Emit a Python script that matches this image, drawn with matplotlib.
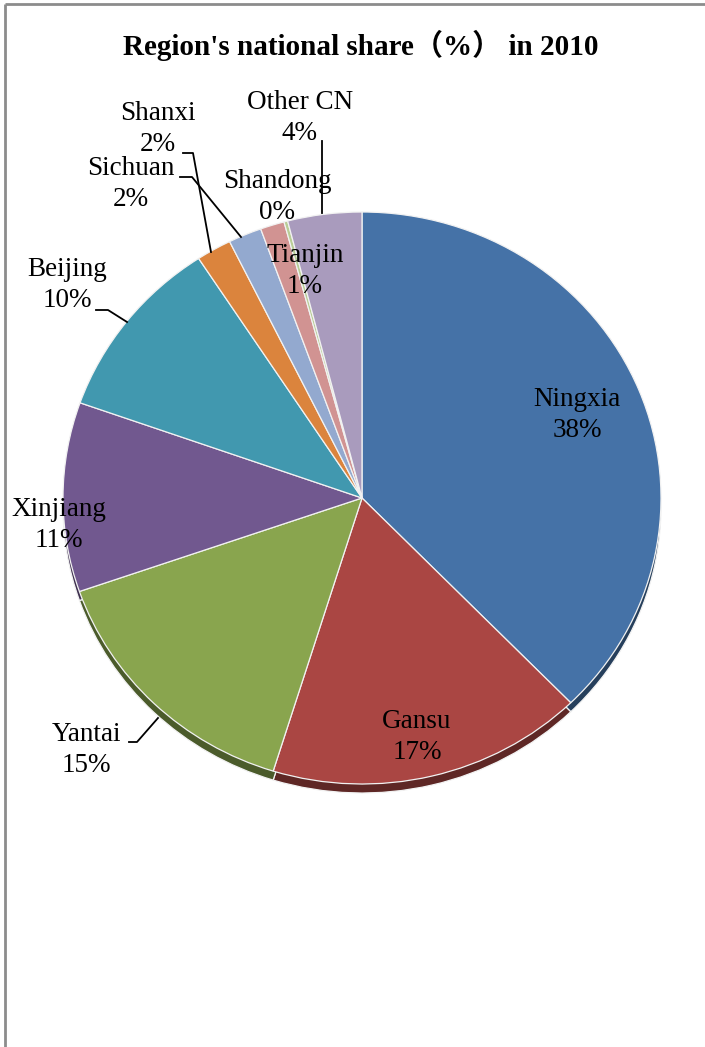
import matplotlib.pyplot as plt
import numpy as np
from matplotlib.colors import to_rgb

# region shares (%), clockwise from 12 o'clock
regions = ["Ningxia", "Gansu", "Yantai", "Xinjiang", "Beijing",
           "Sichuan", "Shanxi", "Tianjin", "Shandong", "Other CN"]
shares = [37.7, 17.1, 14.9, 10.7, 10.4, 1.9, 1.8, 1.3, 0.2, 4.0]
pct_labels = ["38%", "17%", "15%", "11%", "10%", "2%", "2%", "1%", "0%", "4%"]
colors = ["#4572A7", "#AA4643", "#89A54E", "#71588F", "#4198AF",
          "#DB843D", "#93A9CF", "#D19392", "#B9CD96", "#A99BBD"]

W, H = 705, 1047
fig = plt.figure(figsize=(W / 100, H / 100), dpi=100)
fig.patch.set_facecolor("white")

# pie bounding box in pixels
px0, py_top, pw, ph = 63, 212, 598, 572
depth = 9

def pie_axes(dy, cols, z):
    ax = fig.add_axes([px0 / W, 1 - (py_top + ph + dy) / H, pw / W, ph / H])
    ax.pie(shares, colors=cols, startangle=90, counterclock=False,
           radius=1, wedgeprops=dict(edgecolor="#f2f2f2", linewidth=0.9))
    ax.set_aspect("auto")
    ax.set_xlim(-1, 1)
    ax.set_ylim(-1, 1)
    ax.set_zorder(z)
    ax.axis("off")
    return ax

# darker copy underneath gives the 3D rim
dark = [tuple(np.array(to_rgb(c)) * 0.55) for c in colors]
pie_axes(depth, dark, 1)
pie_axes(0, colors, 2)

# overlay in pixel coordinates for text / leader lines / border
ov = fig.add_axes([0, 0, 1, 1])
ov.set_xlim(0, W)
ov.set_ylim(H, 0)
ov.axis("off")
ov.set_zorder(3)

ov.plot([5, W], [4, 4], color="#8c8c8c", lw=2, solid_capstyle="butt")
ov.plot([5, 5], [4, H], color="#8c8c8c", lw=2, solid_capstyle="butt")

ov.text(361, 45, "Region's national share（%） in 2010", ha="center", va="center",
        fontsize=21, fontweight="bold",
        family=["Liberation Serif", "Noto Sans CJK SC"])

label_pos = {
    "Ningxia": (577, 415), "Gansu": (417, 737), "Yantai": (86, 750),
    "Xinjiang": (59, 525), "Beijing": (67, 285), "Sichuan": (131, 184),
    "Shanxi": (158, 129), "Tianjin": (305, 271), "Shandong": (277, 197),
    "Other CN": (300, 118),
}
for name, pct in zip(regions, pct_labels):
    x, y = label_pos[name]
    ov.text(x, y, name + "\n" + pct, ha="center", va="center", fontsize=19.5,
            linespacing=1.3, family="Liberation Serif")

leaders = [
    ([322, 322], [141, 213]),
    ([183, 193, 211], [153, 153, 252]),
    ([180, 192, 241], [177, 177, 237]),
    ([96, 108, 127], [310, 310, 322]),
    ([129, 137, 158], [742, 742, 718]),
]
for xs, ys in leaders:
    ov.plot(xs, ys, color="black", lw=1.3)

fig.savefig("out.png", dpi=100)
